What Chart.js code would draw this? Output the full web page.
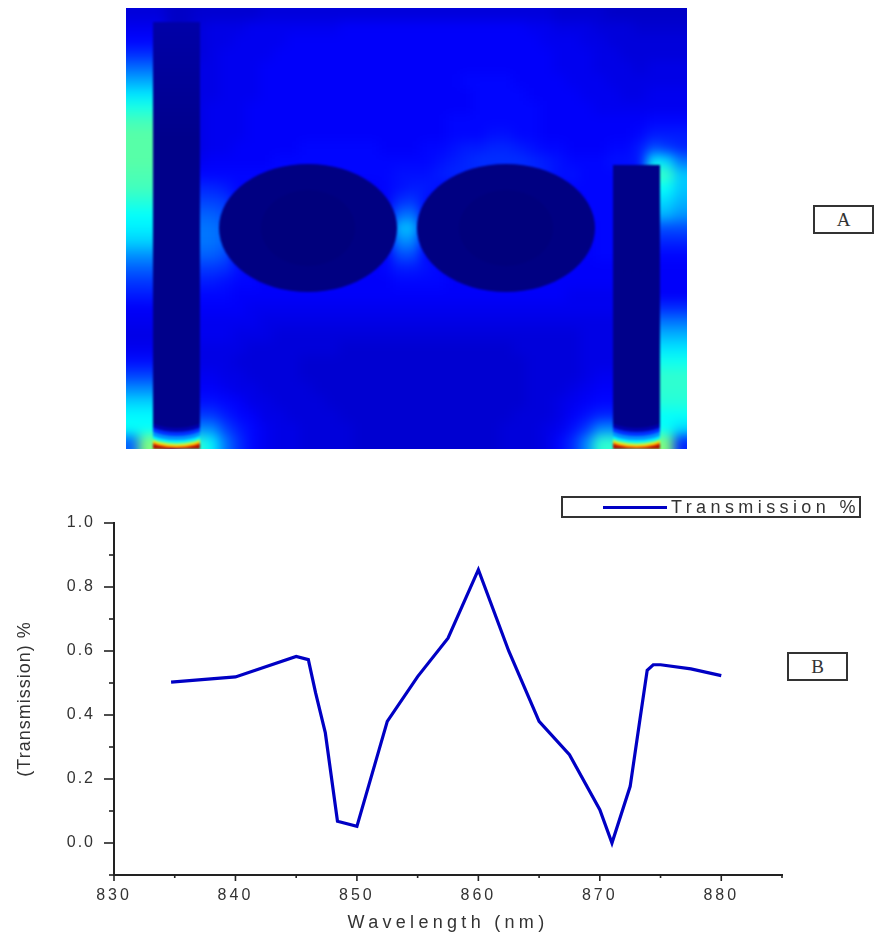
<!DOCTYPE html>
<html lang="en">
<head>
    <meta charset="UTF-8">
    <title>Transmission spectrum and field map</title>
    <script src="https://cdn.jsdelivr.net/npm/chart.js"></script>
    <style>
        body { margin: 0; background: #fff; }
        #page { position: relative; width: 882px; height: 935px; overflow: hidden; font-family: "Liberation Sans", sans-serif; color: #333; }
        #fieldPanel { position: absolute; left: 126px; top: 8px; width: 561px; height: 441px; overflow: hidden; background: #0000b0; }
        #fieldChart { position: absolute; left: -27px; top: -27px; filter: blur(6px); }
        #shapeChart { position: absolute; left: 0; top: 0; filter: blur(0.8px); }
        #lineChart { position: absolute; left: 0; top: 480px; }
        .tag { position: absolute; box-sizing: border-box; border: 2px solid #333; text-align: center; font: 19px/25px "Liberation Serif", serif; background: #fff; }
        #legend { position: absolute; box-sizing: border-box; left: 561px; top: 496px; width: 300px; height: 22px; border: 2px solid #333; }
        #legendLine { position: absolute; left: 40px; top: 8px; width: 64px; height: 3px; }
        #legendText { position: absolute; left: 108px; top: -2px; font-size: 18px; line-height: 22px; letter-spacing: 4.4px; white-space: nowrap; }
    </style>
</head>
<body>
<div id="page">
    <div id="fieldPanel">
        <canvas id="fieldChart" width="615" height="495"></canvas>
        <canvas id="shapeChart" width="561" height="441"></canvas>
    </div>
    <div class="tag" style="left:813px;top:205px;width:61px;height:29px">A</div>
    <div class="tag" style="left:787px;top:652px;width:61px;height:29px">B</div>
    <canvas id="lineChart" width="882" height="455"></canvas>
    <div id="legend"><span id="legendLine"></span><span id="legendText"></span></div>
</div>

<script>
    // panel B
    const wavelengths = [834.7, 840, 845, 846, 846.6, 847.4, 848.4, 850, 852.5, 855, 857.5, 860, 862.5, 865, 867.5, 870, 871, 872.5, 873.3, 873.9, 874.4, 875, 877.5, 880];
    const transmission = [0.503, 0.519, 0.583, 0.573, 0.469, 0.344, 0.068, 0.052, 0.38, 0.52, 0.64, 0.854, 0.6, 0.38, 0.276, 0.104, 0.0, 0.177, 0.385, 0.54, 0.557, 0.557, 0.544, 0.523];
    const seriesLabel = 'Transmission %';
    const seriesColor = '#0000c4';
    const xTickLabels = [830, 840, 850, 860, 870, 880];
    const yTickLabels = ['0.0', '0.2', '0.4', '0.6', '0.8', '1.0'];

    // panel A, field strength per cell (percent of the colour scale), top row first
    const fieldRows = [
        [9,9,9,7,7,8,8,8,8,8,9,9,9,9,9,9,9,9,9,9,9,9,9,9,9,9,9,9,9,9,9,9,8,8,8,8,7,7,7,7,7,7],
        [11,11,11,7,7,9,10,10,10,11,11,11,11,11,11,11,12,12,12,12,12,12,12,12,12,12,12,12,12,12,11,11,10,10,10,9,9,9,8,8,8,8],
        [13,13,13,7,7,9,10,10,11,11,11,11,12,12,12,12,12,12,12,12,12,12,12,12,12,12,12,12,12,12,12,11,11,11,10,10,9,9,9,9,9,9],
        [17,17,17,7,7,9,10,11,11,11,11,12,12,12,12,12,12,12,12,12,12,12,12,12,12,12,12,12,12,12,12,12,11,11,11,10,10,9,9,9,9,9],
        [23,23,23,7,7,10,10,11,11,11,12,12,12,12,12,12,12,12,12,12,12,12,12,12,12,12,12,12,12,12,12,12,11,11,11,10,10,10,9,10,10,10],
        [29,29,29,7,7,10,10,11,11,11,12,12,12,12,12,12,12,12,12,12,12,12,12,12,12,13,13,13,13,12,12,12,12,11,11,11,10,10,10,10,10,10],
        [35,35,35,7,7,10,10,11,11,11,12,12,12,12,12,12,12,12,12,12,12,12,12,12,12,12,13,13,13,13,12,12,12,12,11,11,11,10,10,11,11,11],
        [40,40,40,7,7,10,11,11,11,12,12,12,12,12,12,12,12,12,12,12,12,12,12,12,12,12,13,13,13,13,13,12,12,12,12,11,11,11,11,11,11,11],
        [44,44,44,7,7,10,11,11,11,12,12,12,12,12,12,12,12,12,12,12,12,12,12,12,13,13,13,13,13,13,13,12,12,12,12,12,12,12,12,13,13,13],
        [46,46,46,7,7,10,11,11,11,12,12,12,12,12,12,12,12,12,12,12,12,12,12,12,13,13,13,14,14,13,13,12,12,12,12,12,12,12,13,15,15,15],
        [46,46,46,7,7,10,11,11,12,12,12,12,12,13,13,13,13,13,13,12,12,12,13,13,14,15,15,16,16,15,14,13,13,12,12,12,13,13,15,20,18,16],
        [46,46,46,7,7,11,12,12,12,12,12,13,13,13,13,13,13,13,13,13,13,13,13,14,15,16,17,17,17,17,16,15,14,13,13,13,14,14,15,36,34,24],
        [45,45,45,7,12,13,13,13,13,13,13,13,13,13,13,13,13,13,13,13,14,14,14,15,16,16,16,16,16,16,16,15,14,14,13,13,13,13,13,43,43,32],
        [44,44,44,7,15,16,16,15,13,13,12,12,12,12,12,12,12,12,12,13,14,15,15,14,13,13,13,13,13,13,13,13,13,13,13,13,13,13,13,38,38,32],
        [41,41,41,7,18,19,19,18,13,12,12,12,12,12,12,12,12,12,12,12,17,18,14,12,12,12,12,12,12,12,12,12,12,12,13,13,13,13,13,34,34,30],
        [38,38,38,7,21,22,22,20,12,12,12,12,12,12,12,12,12,12,12,12,23,24,12,12,12,12,12,12,12,12,12,12,12,12,13,13,13,13,13,30,30,27],
        [36,36,36,7,23,24,24,22,12,12,12,12,12,12,12,12,12,12,12,12,31,31,12,12,12,12,12,12,12,12,12,12,12,12,12,13,13,13,13,20,20,20],
        [33,33,33,7,23,24,24,22,12,12,12,12,12,12,12,12,12,12,12,12,26,26,12,12,12,12,12,12,12,12,12,12,12,12,12,13,13,13,13,16,16,16],
        [27,27,27,7,21,22,22,20,12,12,12,12,12,12,12,12,12,12,12,12,20,20,13,12,12,12,12,12,12,12,12,12,12,12,12,13,13,13,13,13,13,13],
        [22,22,22,7,17,18,18,17,14,12,12,12,12,12,12,12,12,12,12,13,15,15,14,13,12,12,12,12,12,12,12,12,12,12,12,12,12,12,12,12,12,12],
        [18,18,18,7,14,15,15,14,13,13,12,12,12,12,12,12,12,12,12,12,13,13,13,13,12,12,12,12,12,12,12,12,12,12,12,12,12,12,12,12,12,12],
        [15,15,15,7,12,13,13,13,12,12,12,12,12,12,12,12,12,12,12,12,12,12,12,12,12,12,12,12,12,12,12,12,12,11,11,11,11,11,11,12,12,12],
        [12,12,12,7,11,12,12,12,12,11,11,11,11,11,11,11,11,11,11,11,11,11,11,11,11,11,11,11,11,11,11,11,11,11,11,11,11,11,11,17,17,17],
        [11,11,11,7,10,11,11,11,11,11,10,10,10,10,10,10,10,10,10,10,10,10,10,10,10,10,10,10,10,10,10,10,10,10,10,10,10,10,10,24,24,24],
        [10,10,10,7,10,11,11,11,10,10,10,9,9,9,9,9,9,9,9,9,9,9,9,9,9,9,9,9,9,9,9,9,9,9,10,10,10,10,10,30,30,30],
        [11,11,11,7,10,10,10,10,10,9,9,9,9,9,9,9,8,8,8,8,8,8,8,8,8,8,8,8,8,9,9,9,9,9,10,10,10,10,10,35,35,35],
        [14,14,14,7,10,10,10,10,9,9,9,9,9,8,8,8,8,8,8,8,8,8,8,8,8,8,8,8,8,8,9,9,9,9,10,10,10,10,10,39,39,39],
        [19,19,19,7,10,11,11,10,10,9,9,9,9,8,8,8,8,8,8,8,8,8,8,8,8,8,8,8,8,8,9,9,9,9,10,11,11,11,11,42,42,42],
        [26,26,26,7,12,12,12,11,10,10,9,9,9,9,8,8,8,8,8,8,8,8,8,8,8,8,8,8,8,8,9,9,9,10,11,12,12,12,12,42,42,42],
        [33,33,33,7,14,14,14,13,12,10,10,9,9,9,9,8,8,8,8,8,8,8,8,8,8,8,8,8,8,8,9,9,10,11,12,13,13,13,13,41,41,41],
        [37,37,37,7,18,18,18,15,13,12,10,10,9,9,9,9,8,8,8,8,8,8,8,8,8,8,8,8,8,9,9,9,10,12,14,16,16,16,16,38,38,38],
        [38,38,38,7,26,26,26,19,15,13,11,10,10,9,9,9,9,8,8,8,8,8,8,8,8,8,8,8,9,9,9,10,11,14,18,26,26,26,26,38,38,34],
        [22,50,50,7,40,42,36,24,17,13,11,10,10,9,9,9,9,8,8,8,8,8,8,8,8,8,8,8,9,9,9,10,13,17,26,42,42,42,42,50,50,16]
    ];

    // panel A structures, in panel pixels from the top left
    const rodLeft = [27, 487];
    const rodRight = [74, 534];
    const rodTop = [14, 157];
    const rodTopColors = ['#0000a8', '#000088'];
    const rodColor = '#00008a';
    const diskCentreX = [182, 380];
    const diskCentreY = 220;
    const diskRadii = [89, 64];
    const coreRadii = [47, 38];
    const footCentreY = 411;
    const footRadiiY = [30, 29, 27.5, 26, 24, 21, 17, 13, 9];
    const footColors = ['#b01000', '#ff7000', '#ffe000', '#90ff70', '#00f0ff', '#0090ff', '#0030ff', '#0000b0', rodColor];

    // usual jet colour scale
    function jet(v) {
        const band = x => Math.round(255 * Math.max(0, Math.min(1, 1.5 - Math.abs(4 * v - x))));
        return `rgb(${band(3)},${band(2)},${band(1)})`;
    }

    // field cells, edge cells repeated past the border so the blur does not fade at the panel edge
    const fieldPoints = [];
    for (let r = -2; r < fieldRows.length + 2; r++) {
        for (let c = -2; c < fieldRows[0].length + 2; c++) {
            const row = fieldRows[Math.max(0, Math.min(fieldRows.length - 1, r))];
            fieldPoints.push({ x: c + 0.5, y: r + 0.5, v: row[Math.max(0, Math.min(row.length - 1, c))] / 100 });
        }
    }

    new Chart(document.getElementById('fieldChart'), {
        type: 'scatter',
        data: {
            datasets: [{
                data: fieldPoints,
                pointStyle: 'rect',
                borderWidth: 0,
                backgroundColor: ctx => jet(ctx.raw.v),
                pointRadius: ctx => {
                    const s = ctx.chart.scales.x;
                    return (s.getPixelForValue(1) - s.getPixelForValue(0)) / 2 * Math.SQRT2 + 0.6;
                }
            }]
        },
        options: {
            responsive: false,
            animation: false,
            events: [],
            plugins: { legend: { display: false }, tooltip: { enabled: false } },
            scales: {
                x: { type: 'linear', display: false, min: -2, max: 44 },
                y: { type: 'linear', display: false, min: -2, max: 35, reverse: true }
            }
        }
    });

    // dark rods and disks on top of the field
    const structurePlugin = {
        id: 'structure',
        afterDraw(chart) {
            const { ctx, scales: { x, y } } = chart;
            const sx = d => x.getPixelForValue(d) - x.getPixelForValue(0);
            rodLeft.forEach((left, i) => {
                const x0 = x.getPixelForValue(left), x1 = x.getPixelForValue(rodRight[i]);
                const y0 = y.getPixelForValue(rodTop[i]), y1 = y.getPixelForValue(441);
                const footY = y.getPixelForValue(footCentreY);
                const grad = ctx.createLinearGradient(0, y0, 0, y0 + 120);
                grad.addColorStop(0, rodTopColors[i]);
                grad.addColorStop(1, rodColor);
                ctx.save();
                ctx.beginPath();
                ctx.rect(x0, y0, x1 - x0, y1 - y0);
                ctx.clip();
                ctx.fillStyle = footColors[0];
                ctx.fillRect(x0, footY, x1 - x0, y1 - footY);
                footColors.forEach((color, j) => {
                    ctx.fillStyle = color;
                    ctx.beginPath();
                    ctx.ellipse((x0 + x1) / 2, footY, sx(footRadiiY[j] + 18), sx(footRadiiY[j]), 0, 0, Math.PI * 2);
                    ctx.fill();
                });
                // rod colour above the foot
                ctx.fillStyle = grad;
                ctx.fillRect(x0, y0, x1 - x0, footY - y0);
                ctx.restore();
            });
            diskCentreX.forEach(cx => {
                ctx.fillStyle = '#000082';
                ctx.beginPath();
                ctx.ellipse(x.getPixelForValue(cx), y.getPixelForValue(diskCentreY), sx(diskRadii[0]), sx(diskRadii[1]), 0, 0, Math.PI * 2);
                ctx.fill();
                ctx.fillStyle = '#00007c';
                ctx.beginPath();
                ctx.ellipse(x.getPixelForValue(cx), y.getPixelForValue(diskCentreY), sx(coreRadii[0]), sx(coreRadii[1]), 0, 0, Math.PI * 2);
                ctx.fill();
            });
        }
    };

    new Chart(document.getElementById('shapeChart'), {
        type: 'scatter',
        data: { datasets: [{ data: [] }] },
        options: {
            responsive: false,
            animation: false,
            events: [],
            plugins: { legend: { display: false }, tooltip: { enabled: false } },
            scales: {
                x: { type: 'linear', display: false, min: 0, max: 561 },
                y: { type: 'linear', display: false, min: 0, max: 441, reverse: true }
            }
        },
        plugins: [structurePlugin]
    });

    // the original has wide letter gaps, canvas can do that per scale
    const letterGaps = {
        x: { drawLabels: '3px', drawTitle: '4.3px' },
        y: { drawLabels: '2px', drawTitle: '1px' }
    };
    const tickLengths = { x: [6, 3], y: [10, 5] };
    const axisColor = '#222';

    const axisPlugin = {
        id: 'axisDetails',
        beforeDraw(chart) {
            ['x', 'y'].forEach(id => {
                const scale = chart.scales[id];
                if (scale.spaced) return;
                scale.spaced = true;
                Object.keys(letterGaps[id]).forEach(method => {
                    const orig = scale[method];
                    scale[method] = function (...args) {
                        chart.ctx.save();
                        chart.ctx.letterSpacing = letterGaps[id][method];
                        orig.apply(this, args);
                        chart.ctx.restore();
                    };
                });
            });
        },
        afterDraw(chart) {
            const { ctx, chartArea } = chart;
            ctx.save();
            ctx.strokeStyle = axisColor;
            ctx.lineWidth = 1.6;
            chart.scales.x.ticks.forEach(t => {
                const px = chart.scales.x.getPixelForValue(t.value);
                ctx.beginPath();
                ctx.moveTo(px, chartArea.bottom);
                ctx.lineTo(px, chartArea.bottom + tickLengths.x[t.label ? 0 : 1]);
                ctx.stroke();
            });
            chart.scales.y.ticks.forEach(t => {
                const py = chart.scales.y.getPixelForValue(t.value);
                ctx.beginPath();
                ctx.moveTo(chartArea.left, py);
                ctx.lineTo(chartArea.left - tickLengths.y[t.label ? 0 : 1], py);
                ctx.stroke();
            });
            ctx.restore();
        }
    };

    new Chart(document.getElementById('lineChart'), {
        type: 'line',
        data: {
            datasets: [{
                label: seriesLabel,
                data: wavelengths.map((w, i) => ({ x: w, y: transmission[i] })),
                borderColor: seriesColor,
                borderWidth: 3.2,
                pointRadius: 0,
                tension: 0
            }]
        },
        options: {
            responsive: false,
            animation: false,
            layout: { padding: { top: 43, right: 100, bottom: 0, left: 0 } },
            plugins: { legend: { display: false }, tooltip: { enabled: false } },
            scales: {
                x: {
                    type: 'linear',
                    min: 830,
                    max: 885,
                    afterFit: s => { s.height = 60; },
                    grid: { display: false, drawTicks: false },
                    border: { color: axisColor, width: 2 },
                    ticks: {
                        stepSize: 5,
                        autoSkip: false,
                        maxRotation: 0,
                        padding: 11,
                        color: '#333',
                        font: { family: 'Liberation Sans', size: 16 },
                        callback: v => xTickLabels.includes(v) ? String(v) : ''
                    },
                    title: {
                        display: true,
                        text: 'Wavelength (nm)',
                        color: '#333',
                        padding: { top: 0, bottom: 1 },
                        font: { family: 'Liberation Sans', size: 18 }
                    }
                },
                y: {
                    type: 'linear',
                    min: -0.1,
                    max: 1,
                    afterFit: s => { s.width = 114; },
                    grid: { display: false, drawTicks: false },
                    border: { color: axisColor, width: 2 },
                    ticks: {
                        stepSize: 0.1,
                        autoSkip: false,
                        padding: 19,
                        color: '#333',
                        font: { family: 'Liberation Sans', size: 16 },
                        callback: v => {
                            const text = v.toFixed(1);
                            return yTickLabels.includes(text) ? text : '';
                        }
                    },
                    title: {
                        display: true,
                        text: '(Transmission) %',
                        color: '#333',
                        padding: { top: 14, bottom: 0 },
                        font: { family: 'Liberation Sans', size: 18 }
                    }
                }
            }
        },
        plugins: [axisPlugin]
    });

    // legend box sits outside the plot area, so plain html
    document.getElementById('legendLine').style.background = seriesColor;
    document.getElementById('legendText').textContent = seriesLabel;
</script>
</body>
</html>
